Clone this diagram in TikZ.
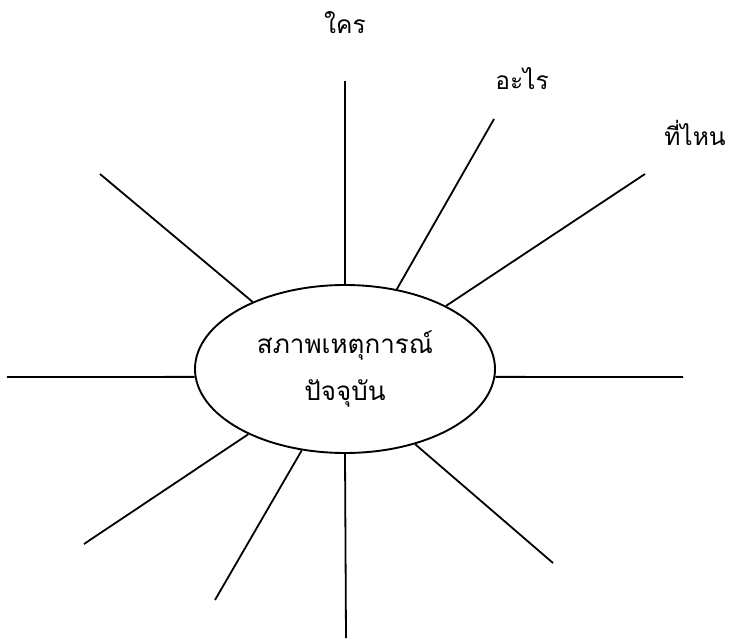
\documentclass[tikz,border=0pt]{standalone}
\usepackage{fontspec}
\newfontfamily\thaifont[Script=Thai]{Loma}
\usetikzlibrary{shapes.geometric}
\tikzset{
  ray/.style={draw, line width=1.8pt},
  lbl/.style={font=\thaifont\fontsize{24.5}{28}\selectfont, inner sep=0pt, anchor=base},
  hub/.style={draw, ellipse, line width=1.9pt, minimum width=300pt, minimum height=168pt, inner sep=0pt, align=center, font=\thaifont\fontsize{26}{47}\selectfont}
}
\begin{document}
\begin{tikzpicture}[x=1pt,y=-1pt]
\useasboundingbox (0,0) rectangle (729,640);
\node[hub] (e) at (345,369) {สภาพเหตุการณ์\\ปัจจุบัน};
\coordinate (o1) at (100,174);
\coordinate (o2) at (345,81);
\coordinate (o3) at (494,119);
\coordinate (o4) at (645,174);
\coordinate (o5) at (683,377);
\coordinate (o6) at (553,563);
\coordinate (o7) at (346,638);
\coordinate (o8) at (215,600);
\coordinate (o9) at (84,544);
\coordinate (o10) at (7,377);
\draw[ray] (e.144.9) -- (o1);
\draw[ray] (e.90) -- (o2);
\draw[ray] (e.57.2) -- (o3);
\draw[ray] (e.32.2) -- (o4);
\draw[ray] (e.357) -- (o5);
\draw[ray] (e.313) -- (o6);
\draw[ray] (e.270) -- (o7);
\draw[ray] (e.242.3) -- (o8);
\draw[ray] (e.214.1) -- (o9);
\draw[ray] (e.183) -- (o10);
\node[lbl] (t1) at (345,33) {ใคร};
\node[lbl] (t2) at (522,89) {อะไร};
\node[lbl] (t3) at (695,145) {ที่ไหน};
\end{tikzpicture}
\end{document}
